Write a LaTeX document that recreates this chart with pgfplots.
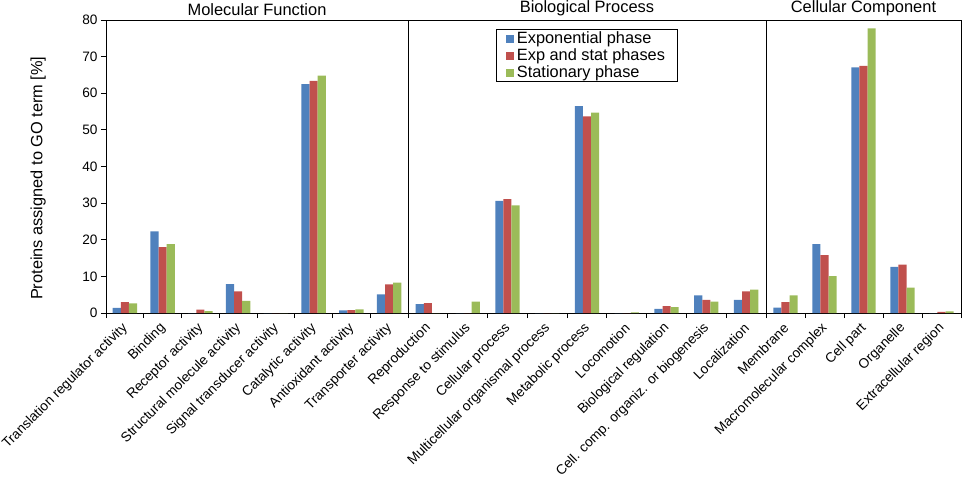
\documentclass[border=0pt]{standalone}
\usepackage{pgfplots}
\pgfplotsset{compat=1.18}
\usepackage{fontspec}
\setmainfont{Liberation Sans}

\definecolor{expblue}{HTML}{4F81BD}
\definecolor{expred}{HTML}{C0504D}
\definecolor{statgreen}{HTML}{9BBB59}

% one panel per GO domain; widths follow the reference
\pgfplotsset{
  goaxis/.style={
    scale only axis, height=293bp,
    anchor=south west,
    ymin=0, ymax=80,
    ybar=0pt, bar width=8.1bp,
    tick align=outside, tick pos=left,
    major tick length=5bp,
    axis line style={line width=0.9bp, black},
    every tick/.style={black, line width=0.8bp},
    x tick label as interval,
    tick label style={font=\fontsize{13.7}{15}\selectfont},
    xticklabel style={xshift=3bp, yshift=-5.5bp, rotate=45, anchor=east},
    title style={font=\fontsize{16.5}{18}\selectfont, yshift=-5bp},
    /pgf/number format/assume math mode=true,
    legend image code/.code={\fill[##1] (0bp,-4bp) rectangle (8bp,4bp);},
  },
  pexp/.style={fill=expblue, draw=none},
  pboth/.style={fill=expred, draw=none},
  pstat/.style={fill=statgreen, draw=none},
}

\begin{document}
\begin{tikzpicture}
\useasboundingbox (-106bp,-164bp) rectangle (858bp,313bp);

% Molecular Function
\begin{axis}[goaxis, at={(0bp,0bp)}, width=302bp,
    title={Molecular Function},
    xmin=-0.5, xmax=7.5,
    xtick={-0.5,0.5,...,7.5},
    xticklabels={Translation regulator activity, Binding, Receptor activity,
      Structural molecule activity, Signal transducer activity,
      Catalytic activity, Antioxidant activity, Transporter activity},
    ytick={0,10,...,80},
    ylabel={Proteins assigned to GO term [\%]},
    ylabel style={at={(axis description cs:-0.225,0.46)}, anchor=center,
      font=\fontsize{16.4}{18}\selectfont},
  ]
  \addplot[pexp]  coordinates {(0,1.4)(1,22.3)(2,0)(3,7.9)(4,0)(5,62.5)(6,0.7)(7,5.1)};
  \addplot[pboth] coordinates {(0,3.0)(1,18.0)(2,0.9)(3,5.9)(4,0)(5,63.4)(6,0.8)(7,7.8)};
  \addplot[pstat] coordinates {(0,2.6)(1,18.8)(2,0.5)(3,3.3)(4,0)(5,64.8)(6,1.0)(7,8.3)};
\end{axis}

% Biological Process
\begin{axis}[goaxis, at={(302bp,0bp)}, width=358bp,
    title={Biological Process},
    xmin=-0.5, xmax=8.5,
    xtick={-0.5,0.5,...,8.5},
    xticklabels={Reproduction, Response to stimulus, Cellular process,
      Multicellular organismal process, Metabolic process, Locomotion,
      Biological regulation, Cell. comp. organiz. or biogenesis, Localization},
    ytick=\empty,
    legend cell align=left,
    legend style={at={(0.5,0.968)}, anchor=north, draw=black, line width=0.9bp,
      font=\fontsize{16.4}{18}\selectfont, inner xsep=10bp, inner ysep=0.5bp,
      nodes={inner ysep=1.8bp, inner xsep=2.5bp}},
  ]
  \addplot[pexp]  coordinates {(0,2.4)(1,0)(2,30.6)(3,0)(4,56.5)(5,0)(6,1.1)(7,4.8)(8,3.6)};
  \addplot[pboth] coordinates {(0,2.7)(1,0)(2,31.1)(3,0)(4,53.7)(5,0)(6,1.9)(7,3.6)(8,5.9)};
  \addplot[pstat] coordinates {(0,0)(1,3.1)(2,29.4)(3,0)(4,54.7)(5,0.15)(6,1.6)(7,3.1)(8,6.4)};
  \legend{Exponential phase, Exp and stat phases, Stationary phase}
\end{axis}

% Cellular Component
\begin{axis}[goaxis, at={(660bp,0bp)}, width=195bp,
    title={Cellular Component},
    xmin=-0.5, xmax=4.5,
    xtick={-0.5,0.5,...,4.5},
    xticklabels={Membrane, Macromolecular complex, Cell part, Organelle,
      Extracellular region},
    ytick=\empty,
  ]
  \addplot[pexp]  coordinates {(0,1.5)(1,18.8)(2,67.1)(3,12.6)(4,0)};
  \addplot[pboth] coordinates {(0,3.0)(1,15.8)(2,67.5)(3,13.2)(4,0.3)};
  \addplot[pstat] coordinates {(0,4.8)(1,10.1)(2,77.7)(3,6.9)(4,0.45)};
\end{axis}
\end{tikzpicture}
\end{document}
